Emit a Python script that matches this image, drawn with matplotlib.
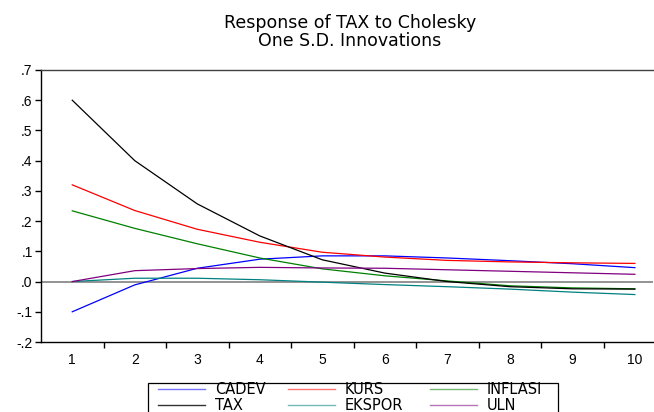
import matplotlib
matplotlib.use("Agg")
import matplotlib.pyplot as plt
from matplotlib.lines import Line2D
from matplotlib.patches import Rectangle

plt.rcParams['font.family'] = ['Liberation Sans', 'DejaVu Sans']

periods = [1, 2, 3, 4, 5, 6, 7, 8, 9, 10]
cadev = [-0.100, -0.011, 0.044, 0.074, 0.085, 0.085, 0.078, 0.069, 0.059, 0.046]
kurs = [0.320, 0.235, 0.173, 0.130, 0.097, 0.081, 0.070, 0.065, 0.062, 0.060]
inflasi = [0.234, 0.176, 0.125, 0.078, 0.042, 0.019, 0.002, -0.014, -0.021, -0.024]
tax = [0.600, 0.400, 0.257, 0.151, 0.072, 0.028, 0.000, -0.017, -0.024, -0.025]
ekspor = [0.000, 0.011, 0.011, 0.006, -0.002, -0.010, -0.017, -0.025, -0.035, -0.043]
uln = [0.000, 0.036, 0.043, 0.047, 0.045, 0.044, 0.039, 0.034, 0.029, 0.024]

series_names = ["CADEV", "KURS", "INFLASI", "TAX", "EKSPOR", "ULN"]
series_values = [cadev, kurs, inflasi, tax, ekspor, uln]
series_colors = ["#0000ff", "#ff0000", "#008000", "#000000", "#008080", "#800080"]
yticks = [-0.2, -0.1, 0.0, 0.1, 0.2, 0.3, 0.4, 0.5, 0.6, 0.7]
ytick_labels = ["-.2", "-.1", ".0", ".1", ".2", ".3", ".4", ".5", ".6", ".7"]
title_text = "Response of TAX to Cholesky\nOne S.D. Innovations"

W, H = 654, 412
fig = plt.figure(figsize=(W / 100, H / 100), dpi=100)
ax = fig.add_axes([41 / W, 1 - 342 / H, 612 / W, 272 / H])

ax.axhline(0, color="#808080", lw=1.2, zorder=1)
for name, vals, col in zip(series_names, series_values, series_colors):
    ax.plot(periods, vals, color=col, lw=0.9, zorder=2)

ax.set_xlim(0.5, 10.29)
ax.set_ylim(-0.2, 0.7)
ax.set_yticks(yticks)
ax.set_yticklabels(ytick_labels, fontsize=10)
ax.set_xticks([p + 0.5 for p in periods[:-1]])
ax.set_xticklabels([])
ax.set_xticks(periods, minor=True)
ax.set_xticklabels([str(p) for p in periods], minor=True, fontsize=10)
ax.tick_params(axis='x', which='major', direction='out', length=4, width=1)
ax.tick_params(axis='x', which='minor', length=0, pad=8)
ax.tick_params(axis='y', direction='out', length=4, width=1, pad=2)
ax.spines['right'].set_visible(False)
for s in ['left', 'bottom', 'top']:
    ax.spines[s].set_linewidth(1.0)
ax.spines['top'].set_color("#404040")

fig.text(350 / W, 1 - 32 / H, title_text, ha='center', va='center',
         fontsize=12.5, family=['DejaVu Sans'], linespacing=1.05)

# legend box (manual layout to match reference)
fig.add_artist(Rectangle((148 / W, 1 - 425 / H), (558 - 148) / W, (425 - 383) / H,
                         transform=fig.transFigure, facecolor='white',
                         edgecolor='black', lw=0.9))
col_x = [158, 288, 430]
row_y = [389, 405]
for i, (name, col) in enumerate(zip(series_names, series_colors)):
    r, c = divmod(i, 3)
    x0 = col_x[c]
    y = 1 - row_y[r] / H
    fig.add_artist(Line2D([x0 / W, (x0 + 47) / W], [y, y], transform=fig.transFigure,
                          color=col, lw=1.0, alpha=0.8 if name == "TAX" else 0.55))
    fig.text((x0 + 57) / W, y, name, ha='left', va='center', fontsize=10.5,
             family=['DejaVu Sans'])

fig.savefig("out.png", dpi=100)
